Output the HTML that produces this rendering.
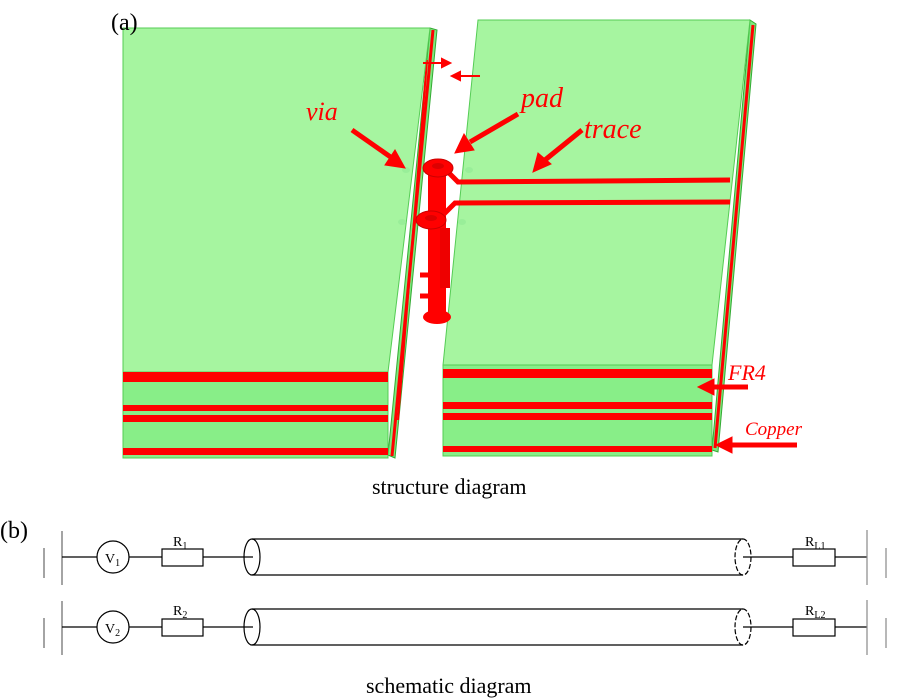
<!DOCTYPE html>
<html><head><style>body{margin:0;background:#fff}svg{display:block}</style></head><body>
<svg width="899" height="700" viewBox="0 0 899 700" xmlns="http://www.w3.org/2000/svg" font-family="Liberation Serif, serif">
<!-- left block -->
<polygon points="430,28 437,30 395,458 388,455" fill="#7de87d" stroke="#3a3" stroke-width="1"/>
<line x1="433" y1="30" x2="392" y2="456" stroke="#f00" stroke-width="3"/>
<line x1="427" y1="60" x2="398" y2="420" stroke="#f00" stroke-width="2"/>
<polygon points="123,28 430,28 388,372 123,372" fill="#a6f5a0" stroke="#5c5" stroke-width="1"/>
<rect x="123" y="372" width="265" height="86" fill="#88ee88" stroke="#5c5"/>
<rect x="123" y="372" width="265" height="10" fill="#f00"/>
<rect x="123" y="405" width="265" height="6" fill="#f00"/>
<rect x="123" y="415" width="265" height="7" fill="#f00"/>
<rect x="123" y="448" width="265" height="7" fill="#f00"/>
<!-- right block -->
<polygon points="750,20 756,24 718,452 712,450" fill="#7de87d" stroke="#3a3"/>
<line x1="753" y1="25" x2="715" y2="448" stroke="#f00" stroke-width="3"/>
<polygon points="478,20 750,20 712,365 443,365" fill="#a6f5a0" stroke="#5c5"/>
<rect x="443" y="365" width="269" height="91" fill="#88ee88" stroke="#5c5"/>
<rect x="443" y="369" width="269" height="9" fill="#f00"/>
<rect x="443" y="402" width="269" height="7" fill="#f00"/>
<rect x="443" y="413" width="269" height="7" fill="#f00"/>
<rect x="443" y="446" width="269" height="6" fill="#f00"/>
<!-- traces -->
<polyline points="448,172 458,182 730,180" fill="none" stroke="#f00" stroke-width="5"/>
<polyline points="440,218 455,203 730,202" fill="none" stroke="#f00" stroke-width="5"/>
<!-- via -->
<rect x="428" y="170" width="18" height="150" fill="#f00"/>
<rect x="440" y="228" width="10" height="60" fill="#e00"/>
<ellipse cx="438" cy="168" rx="15" ry="9" fill="#f00" stroke="#c00"/>
<ellipse cx="438" cy="166" rx="6" ry="3" fill="#d00"/>
<ellipse cx="431" cy="220" rx="15" ry="9" fill="#f00" stroke="#c00"/>
<ellipse cx="431" cy="218" rx="6" ry="3" fill="#d00"/>
<ellipse cx="437" cy="317" rx="14" ry="7" fill="#f00"/>
<path d="M420,296 h12 M420,275 h12" stroke="#f00" stroke-width="5"/>
<ellipse cx="406" cy="170" rx="4" ry="3" fill="#9e9"/>
<ellipse cx="469" cy="170" rx="4" ry="3" fill="#9e9"/>
<ellipse cx="402" cy="222" rx="4" ry="3" fill="#9e9"/>
<ellipse cx="462" cy="222" rx="4" ry="3" fill="#9e9"/>
<!-- small arrows -->
<g stroke="#f00" stroke-width="2" fill="#f00">
<line x1="423" y1="63" x2="446" y2="63"/><polygon points="450,63 442,59 442,67"/>
<line x1="480" y1="76" x2="457" y2="76"/><polygon points="452,76 460,72 460,80"/>
</g>
<!-- label arrows -->
<g stroke="#f00" stroke-width="5" fill="#f00">
<line x1="352" y1="130" x2="392" y2="158"/><polygon points="405,168 385,165 395,150" stroke-width="1"/>
<line x1="518" y1="114" x2="470" y2="142"/><polygon points="455,153 464,134 474,150" stroke-width="1"/>
<line x1="582" y1="130" x2="545" y2="160"/><polygon points="533,172 538,153 551,164" stroke-width="1"/>
<line x1="748" y1="387" x2="712" y2="387"/><polygon points="698,387 714,379 714,395" stroke-width="1"/>
<line x1="797" y1="445" x2="730" y2="445"/><polygon points="716,445 732,437 732,453" stroke-width="1"/>
</g>
<g fill="#f00" font-style="italic">
<text x="306" y="120" font-size="26">via</text>
<text x="521" y="107" font-size="28">pad</text>
<text x="584" y="138" font-size="28">trace</text>
<text x="728" y="380" font-size="22">FR4</text>
<text x="745" y="435" font-size="19">Copper</text>
</g>
<text x="111" y="30" font-size="24">(a)</text>
<text x="372" y="494" font-size="22">structure diagram</text>
<text x="0" y="538" font-size="24">(b)</text>
<text x="366" y="693" font-size="22">schematic diagram</text>
<!-- schematic -->
<g stroke="#000" stroke-width="1.2" fill="none">
<g id="row">
<line x1="44" y1="548" x2="44" y2="578" stroke="#666"/>
<line x1="62" y1="531" x2="62" y2="585" stroke="#666"/>
<line x1="62" y1="557" x2="97" y2="557"/>
<circle cx="113" cy="557" r="16" fill="#fff"/>
<line x1="129" y1="557" x2="162" y2="557"/>
<rect x="162" y="549" width="41" height="17"/>
<line x1="203" y1="557" x2="253" y2="557"/>
<ellipse cx="252" cy="557" rx="8" ry="18"/>
<line x1="252" y1="539" x2="743" y2="539"/>
<line x1="252" y1="575" x2="743" y2="575"/>
<ellipse cx="743" cy="557" rx="8" ry="18" stroke-dasharray="5,2"/>
<line x1="743" y1="557" x2="793" y2="557"/>
<rect x="793" y="549" width="42" height="17"/>
<line x1="835" y1="557" x2="867" y2="557"/>
<line x1="867" y1="530" x2="867" y2="585" stroke="#888"/>
<line x1="886" y1="548" x2="886" y2="578" stroke="#888"/>
</g>
<use href="#row" y="70"/>
</g>
<g font-size="14" fill="#000">
<text x="105" y="563">V<tspan font-size="10" dy="3">1</tspan></text>
<text x="105" y="633">V<tspan font-size="10" dy="3">2</tspan></text>
<text x="173" y="546">R<tspan font-size="10" dy="3">1</tspan></text>
<text x="173" y="615">R<tspan font-size="10" dy="3">2</tspan></text>
<text x="805" y="546">R<tspan font-size="10" dy="3">L1</tspan></text>
<text x="805" y="615">R<tspan font-size="10" dy="3">L2</tspan></text>
</g>
</svg>
</body></html>
